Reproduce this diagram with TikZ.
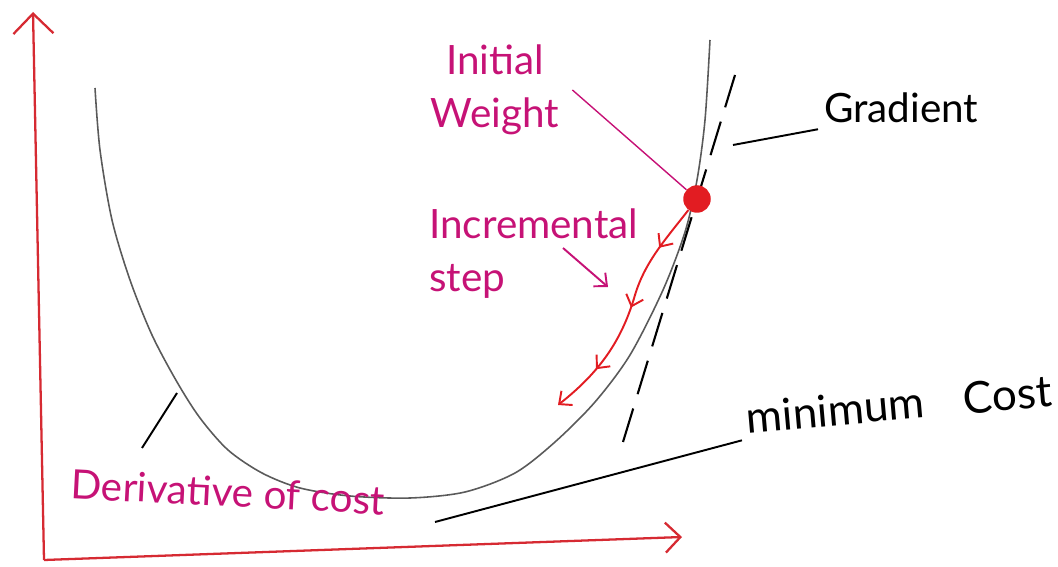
\documentclass[tikz,border=0pt]{standalone}
\usepackage{fontspec}
\setmainfont{Lato}
\usepackage{xcolor}
\usepackage{tikz}
\usetikzlibrary{arrows.meta,decorations.markings}
\definecolor{axisred}{RGB}{214,42,50}
\definecolor{inkpink}{RGB}{198,18,118}
\definecolor{curvegray}{RGB}{90,90,90}
\definecolor{stepred}{RGB}{226,28,34}

\begin{document}
\begin{tikzpicture}[x=0.02cm,y=-0.02cm,
  pinktext/.style={text=inkpink,font=\fontsize{23}{30}\selectfont},
  inktext/.style={text=black,font=\fontsize{23}{30}\selectfont},
  barb/.style={-{Straight Barb[length=2mm,width=3.6mm]}},
  stepmarks/.style={postaction={decorate},decoration={markings,
    mark=at position 0.2 with {\arrow{Straight Barb[length=2mm,width=3.6mm]}},
    mark=at position 0.48 with {\arrow{Straight Barb[length=2mm,width=3.6mm]}},
    mark=at position 0.78 with {\arrow{Straight Barb[length=2mm,width=3.6mm]}}}}]
\useasboundingbox (0,0) rectangle (1058,567);
\coordinate (o) at (44,560);
\coordinate (ytop) at (33,12);
\coordinate (xend) at (682,537);
\draw[axisred,line width=1.3pt,-{Straight Barb[length=4mm,width=8mm]}](o)--(ytop);
\draw[axisred,line width=1.3pt,-{Straight Barb[length=3mm,width=6mm]}](o)--(xend);
\draw[curvegray,line width=0.9pt]plot[smooth]coordinates{(95,88)(100,150)(112,220)(130,280)(152,335)(177,382)(200,418)(228,450)(262,473)(300,488)(350,496)(410,498)(465,492)(515,473)(555,442)(595,402)(630,355)(663,290)(685,232)(697,180)(705,120)(710,40)};
\coordinate (tanlow) at (623,442);
\coordinate (tanhigh) at (735,75);
\draw[black,line width=1.2pt,dash pattern=on 7mm off 3mm](tanlow)--(tanhigh);
\node[circle,fill=stepred,inner sep=0pt,minimum size=5.5mm] (w0) at (697,199){};
\coordinate (wend) at (558,405);
\draw[stepred,line width=1.1pt,stepmarks,barb](w0).. controls (665,240) and (645,262) .. (635,295) .. controls (622,340) and (600,372) .. (wend);
\node[pinktext,align=center] (initw) at (495,90){Initial\\Weight};
\draw[inkpink,line width=0.8pt]([xshift=4pt]initw.east)--(w0);
\node[pinktext,align=left,anchor=north west] (incr) at (423,203){Incremental\\step};
\coordinate (incrfrom) at (563,248);
\coordinate (incrto) at (608,287);
\draw[inkpink,line width=1.1pt,barb](incrfrom)--(incrto);
\node[inktext,anchor=west] (grad) at (818,108){Gradient};
\coordinate (gradtick) at (733,145);
\draw[black,line width=1.1pt](grad.south west)--(gradtick);
\node[inktext,font=\fontsize{25}{30}\selectfont,rotate=5,anchor=west] (mincost) at (740,418){minimum\hspace{0.9em}Cost};
\coordinate (mintick) at (435,522);
\draw[black,line width=1.1pt](mincost.south west)--(mintick);
\node[pinktext,rotate=-3] (deriv) at (228,492){Derivative of cost};
\coordinate (derivtick) at (142,448);
\coordinate (derivcurve) at (177,393);
\draw[black,line width=1.1pt](derivtick)--(derivcurve);
\end{tikzpicture}
\end{document}
